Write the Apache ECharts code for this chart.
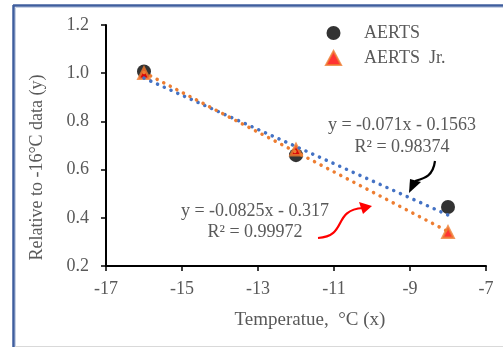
<!DOCTYPE html>
<html>
<head>
<meta charset="utf-8">
<script src="https://cdn.jsdelivr.net/npm/echarts@6/dist/echarts.min.js"></script>
<style>
html,body{margin:0;padding:0;background:#fff;}
#chart{width:503px;height:347px;}
</style>
</head>
<body>
<div id="chart"></div>
<script>
// ---- data ----
var temps = [-16, -12, -8];
var aerts = [1.007, 0.66, 0.445];
var aertsJr = [1.0, 0.682, 0.34];
var trendSlopes = [-0.071, -0.0825];
var trendIntercepts = [-0.1563, -0.317];
var trendLabels = ['y = -0.071x - 0.1563\nR\u00b2 = 0.98374', 'y = -0.0825x - 0.317\nR\u00b2 = 0.99972'];
var xTicks = [-17, -15, -13, -11, -9, -7];
var yTicks = [0.2, 0.4, 0.6, 0.8, 1.0, 1.2];

function pairs(xs, ys){ return xs.map(function(x,i){ return [x, ys[i]]; }); }
function trend(k){
  var x0 = temps[0], x1 = temps[temps.length-1];
  return [[x0, trendSlopes[k]*x0 + trendIntercepts[k]], [x1, trendSlopes[k]*x1 + trendIntercepts[k]]];
}

var font = '"Liberation Serif", "Times New Roman", serif';
var grey = '#595959';
var chart = echarts.init(document.getElementById('chart'), null, {renderer:'canvas'});
chart.setOption({
  animation:false,
  backgroundColor:'#fff',
  grid:{left:106, right:17, top:25, bottom:81, containLabel:false},
  xAxis:{
    type:'value', min:xTicks[0], max:xTicks[xTicks.length-1], interval:2,
    name:'Temperatue,  \u00b0C (x)', nameLocation:'middle', nameGap:45,
    nameTextStyle:{fontFamily:font, fontSize:19, color:grey, padding:[0,0,0,28]},
    axisLine:{onZero:false, lineStyle:{color:'#000', width:2}},
    axisTick:{show:true, length:5, inside:false, lineStyle:{color:'#000', width:1.5}},
    axisLabel:{fontFamily:font, fontSize:18, color:grey, margin:14},
    splitLine:{show:false}
  },
  yAxis:{
    type:'value', min:yTicks[0], max:yTicks[yTicks.length-1], interval:0.2,
    name:'Relative to -16\u00b0C data (y)', nameLocation:'middle', nameGap:60, nameRotate:90,
    nameTextStyle:{fontFamily:font, fontSize:18, color:grey, padding:[0,0,0,-44]},
    axisLine:{onZero:false, lineStyle:{color:'#000', width:2}},
    axisTick:{show:true, length:5, lineStyle:{color:'#000', width:1.5}},
    axisLabel:{fontFamily:font, fontSize:18, color:grey, margin:17, formatter:function(v){return v.toFixed(1);}},
    splitLine:{show:false}
  },
  legend:{
    orient:'vertical', left:320, top:19, itemWidth:15, itemHeight:14, itemGap:7,
    data:['AERTS','AERTS  Jr.'],
    textStyle:{fontFamily:font, fontSize:18, color:grey, padding:[0,0,0,18]}
  },
  series:[
    {name:'AERTS', type:'scatter', data:pairs(temps, aerts), symbol:'circle', symbolSize:14,
     itemStyle:{color:'#000'}, z:2},
    {name:'AERTS  Jr.', type:'scatter', data:pairs(temps, aertsJr), symbol:'triangle', symbolSize:11,
     itemStyle:{color:'#FF0000', borderColor:'#ED7D31', borderWidth:2.5}, z:3},
    {name:'trend1', type:'line', data:trend(0), showSymbol:false, symbol:'none', z:4,
     lineStyle:{color:'#4472C4', width:3.5, type:[0.1,7.3], cap:'round'}},
    {name:'trend2', type:'line', data:trend(1), showSymbol:false, symbol:'none', z:4,
     lineStyle:{color:'#ED7D31', width:3.5, type:[0.1,7.3], cap:'round'}}
  ],
  graphic:[
    {type:'line', shape:{x1:13.5, y1:5, x2:13.5, y2:347}, style:{stroke:'#3F5E9E', lineWidth:2.5}, z:100},
    {type:'line', shape:{x1:13, y1:5.5, x2:503, y2:5.5}, style:{stroke:'#3F5E9E', lineWidth:2.5}, z:100},
    {type:'line', shape:{x1:15.5, y1:7.5, x2:503, y2:7.5}, style:{stroke:'#C9D3E6', lineWidth:1}, z:100},
    {type:'line', shape:{x1:15.5, y1:7.5, x2:15.5, y2:347}, style:{stroke:'#C9D3E6', lineWidth:1}, z:100},
    {type:'line', shape:{x1:15, y1:346.5, x2:503, y2:346.5}, style:{stroke:'#D9D9D9', lineWidth:1}, z:100},
    {type:'text', x:402, y:136, style:{text:trendLabels[0], font:'18px ' + font, fill:grey, align:'center', verticalAlign:'middle', lineHeight:22}, z:100},
    {type:'text', x:255, y:222, style:{text:trendLabels[1], font:'18px ' + font, fill:grey, align:'center', verticalAlign:'middle', lineHeight:21}, z:100},
    {type:'bezierCurve', shape:{x1:435, y1:161, cpx1:433, cpy1:176, cpx2:425, cpy2:178, x2:415, y2:181}, style:{stroke:'#000', lineWidth:2.2, fill:null}, z:100},
    {type:'polygon', shape:{points:[[409,193],[410,179],[421,182]]}, style:{fill:'#000'}, z:100},
    {type:'bezierCurve', shape:{x1:318, y1:238, cpx1:348, cpy1:236, cpx2:332, cpy2:210, x2:363, y2:208}, style:{stroke:'#FF0000', lineWidth:2.2, fill:null}, z:100},
    {type:'polygon', shape:{points:[[372,206],[359,202],[363,214]]}, style:{fill:'#FF0000'}, z:100}
  ]
});
</script>
</body>
</html>
